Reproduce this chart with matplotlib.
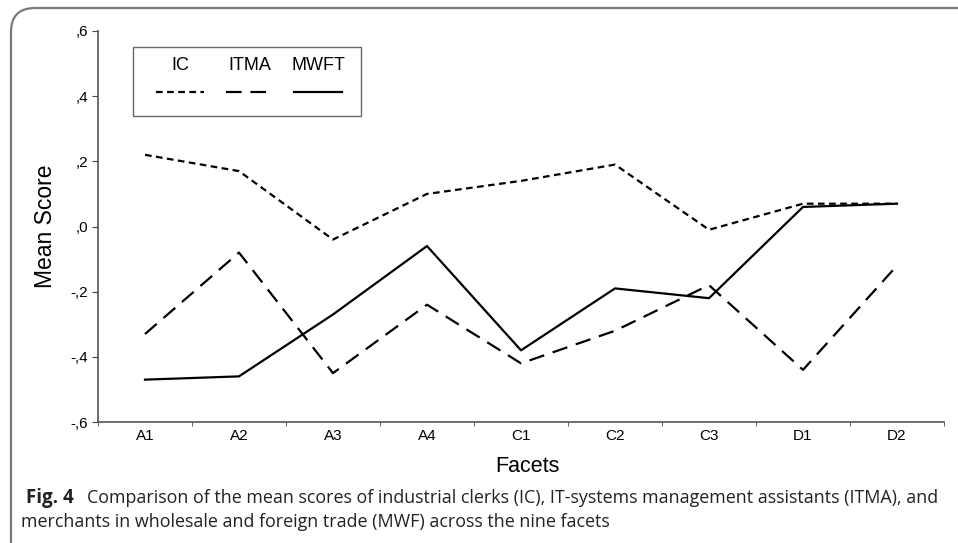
import numpy as np
import matplotlib
matplotlib.use("Agg")
import matplotlib.pyplot as plt
from matplotlib.patches import FancyBboxPatch, Rectangle
from matplotlib.lines import Line2D

plt.rcParams['font.family'] = ['Liberation Sans', 'DejaVu Sans']

facets = ["A1", "A2", "A3", "A4", "C1", "C2", "C3", "D1", "D2"]
ic = [0.22, 0.17, -0.04, 0.10, 0.14, 0.19, -0.01, 0.07, 0.07]
itma = [-0.33, -0.08, -0.45, -0.24, -0.42, -0.32, -0.18, -0.44, -0.12]
mwft = [-0.47, -0.46, -0.27, -0.06, -0.38, -0.19, -0.22, 0.06, 0.07]
yticks = [-0.6, -0.4, -0.2, 0.0, 0.2, 0.4, 0.6]
ytick_labels = ["-,6", "-,4", "-,2", ",0", ",2", ",4", ",6"]

W, H = 958, 543
fig = plt.figure(figsize=(W / 100, H / 100), dpi=100)

# rounded frame around the figure (only top and left visible)
frame = FancyBboxPatch((11 / W, -0.2), 1.2, 1 - 8 / H + 0.2,
                       boxstyle="round,pad=0,rounding_size=0.025",
                       transform=fig.transFigure, fill=False,
                       edgecolor="#7a7a7a", linewidth=1.6, mutation_aspect=W / H)
fig.patches.append(frame)

ax = fig.add_axes([98 / W, 1 - 422 / H, (944 - 98) / W, (422 - 31) / H])
x = np.arange(len(facets))
ax.plot(x, ic, color="black", lw=1.6, dashes=(3, 2))
ax.plot(x, itma, color="black", lw=1.6, dashes=(7, 4))
ax.plot(x, mwft, color="black", lw=1.6)

ax.set_xlim(-0.5, len(facets) - 0.5)
ax.set_ylim(-0.6, 0.6)
ax.set_yticks(yticks)
ax.set_yticklabels(ytick_labels, fontsize=11)
ax.set_xticks(x)
ax.set_xticklabels(facets, fontsize=11)
ax.set_xticks(np.arange(len(facets) + 1) - 0.5, minor=True)
ax.tick_params(axis="x", which="major", length=0, pad=5)
ax.tick_params(axis="x", which="minor", length=3, color="#444444")
ax.tick_params(axis="y", length=4, color="#444444", pad=3)
for s in ["top", "right"]:
    ax.spines[s].set_visible(False)
for s in ["left", "bottom"]:
    ax.spines[s].set_color("#555555")
    ax.spines[s].set_linewidth(1.2)

ax.set_ylabel("Mean Score", fontsize=16.5, va="center")
ax.yaxis.set_label_coords((45 - 98) / (944 - 98), 0.5)
ax.set_xlabel("Facets", fontsize=15.5, va="center")
ax.xaxis.set_label_coords((527 - 98) / (944 - 98), (422 - 467) / (422 - 31))

# legend box
fig.patches.append(Rectangle((133 / W, 1 - 116 / H), (361 - 133) / W, (116 - 47) / H,
                             transform=fig.transFigure, fill=False,
                             edgecolor="#666666", linewidth=1.0))
names = ["IC", "ITMA", "MWFT"]
styles = [(3, 2), (7, 4), None]
centers = [180, 250, 318]
for name, st, cx in zip(names, styles, centers):
    fig.text(cx / W, 1 - 66 / H, name, ha="center", va="center", fontsize=13)
    ln = Line2D([(cx - 24) / W, (cx + 24) / W], [1 - 92 / H, 1 - 92 / H],
                transform=fig.transFigure, color="black", lw=1.6)
    if st is not None:
        ln.set_dashes(st)
    fig.lines.append(ln)

# caption
cap_font = ['Open Sans', 'DejaVu Sans']
fig.text(26 / W, 1 - 498 / H, "Fig. 4", fontsize=13.5, fontweight="bold",
         family=cap_font, va="center", color="#222222")
fig.text(87 / W, 1 - 498 / H,
         "Comparison of the mean scores of industrial clerks (IC), IT-systems management assistants (ITMA), and",
         fontsize=12.9, family=cap_font, va="center", color="#222222")
fig.text(21 / W, 1 - 522 / H,
         "merchants in wholesale and foreign trade (MWF) across the nine facets",
         fontsize=12.9, family=cap_font, va="center", color="#222222")

fig.savefig("out.png", dpi=100)
